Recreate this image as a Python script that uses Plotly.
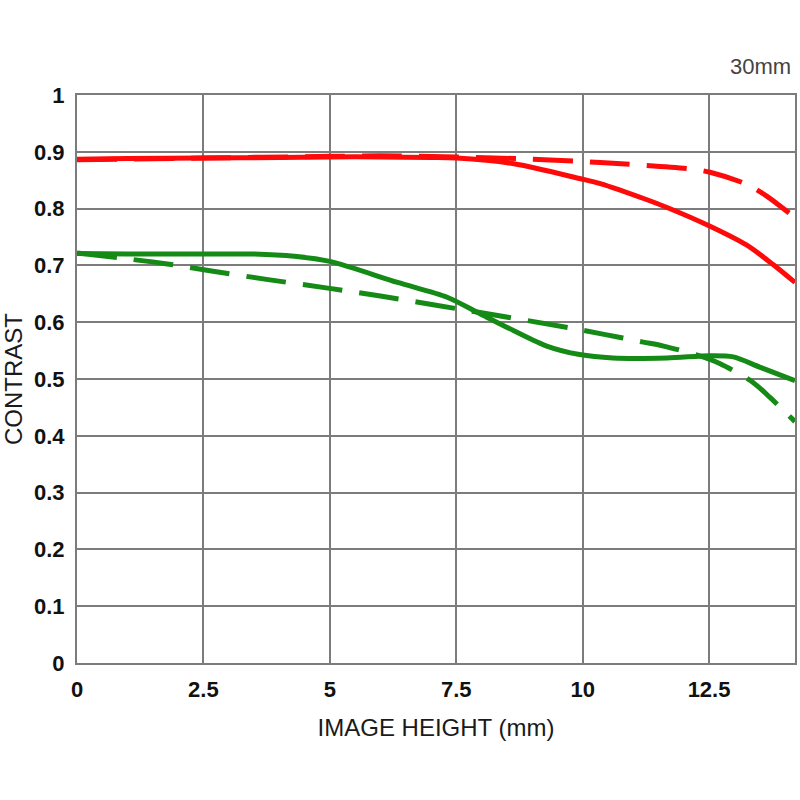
import plotly.graph_objects as go

# Red curves
red_solid_x = [0, 1, 2.5, 4, 5, 6, 7, 7.5, 8.64, 9.94, 10.35, 11.26, 11.67, 12.52, 13.24, 13.76, 14.2]
red_solid_y = [0.887, 0.888, 0.889, 0.890, 0.891, 0.891, 0.890, 0.889, 0.879, 0.853, 0.844, 0.816, 0.802, 0.769, 0.736, 0.702, 0.670]

red_dash_x = [0, 2.5, 5, 6, 7.5, 9, 10.35, 12.13, 12.52, 13.24, 13.64, 14.2]
red_dash_y = [0.886, 0.889, 0.892, 0.893, 0.891, 0.887, 0.881, 0.870, 0.864, 0.843, 0.822, 0.784]

# Green curves
green_solid_x = [0, 1, 2.5, 3.5, 4.3, 5, 6.34, 7.32, 7.97, 8.64, 9.29, 9.94, 10.6, 11.67, 12.52, 12.98, 13.5, 14.2]
green_solid_y = [0.721, 0.720, 0.720, 0.720, 0.716, 0.707, 0.670, 0.644, 0.615, 0.585, 0.558, 0.543, 0.537, 0.537, 0.541, 0.539, 0.521, 0.497]

green_dash_x = [0, 1.75, 2.66, 3.78, 4.96, 6.0, 7.97, 9.94, 10.4, 11.2, 11.6, 12.27, 12.72, 13.37, 13.7, 14.2]
green_dash_y = [0.722, 0.703, 0.690, 0.675, 0.660, 0.646, 0.617, 0.587, 0.579, 0.565, 0.558, 0.542, 0.527, 0.494, 0.468, 0.425]

x_ticks = [0, 2.5, 5, 7.5, 10, 12.5]
x_tick_labels = ["0", "2.5", "5", "7.5", "10", "12.5"]
y_ticks = [0, 0.1, 0.2, 0.3, 0.4, 0.5, 0.6, 0.7, 0.8, 0.9, 1]
y_tick_labels = ["0", "0.1", "0.2", "0.3", "0.4", "0.5", "0.6", "0.7", "0.8", "0.9", "1"]

RED = "#ff0a0a"
GREEN = "#168a16"
GRID = "#7c7c7c"
DASH = "40px,17px"

fig = go.Figure()
fig.add_trace(go.Scatter(x=red_dash_x, y=red_dash_y, mode="lines",
                         line=dict(color=RED, width=5, dash=DASH, shape="spline", smoothing=0.8)))
fig.add_trace(go.Scatter(x=red_solid_x, y=red_solid_y, mode="lines",
                         line=dict(color=RED, width=5, shape="spline", smoothing=0.8)))
fig.add_trace(go.Scatter(x=green_dash_x, y=green_dash_y, mode="lines",
                         line=dict(color=GREEN, width=5, dash=DASH, shape="spline", smoothing=0.8)))
fig.add_trace(go.Scatter(x=green_solid_x, y=green_solid_y, mode="lines",
                         line=dict(color=GREEN, width=5, shape="spline", smoothing=0.8)))

tickfont = dict(family="Liberation Sans, Arial, sans-serif", size=22, color="#111111", weight="bold")
titlefont = dict(family="Liberation Sans, Arial, sans-serif", size=24, color="#1a1a1a")

fig.update_layout(
    width=800, height=800,
    margin=dict(l=77, r=3, t=95, b=137),
    paper_bgcolor="white", plot_bgcolor="white",
    showlegend=False,
    xaxis=dict(
        range=[0, 14.2], tickvals=x_ticks, ticktext=x_tick_labels,
        showgrid=True, gridcolor=GRID, gridwidth=2,
        showline=True, linecolor=GRID, linewidth=2, mirror=True,
        zeroline=False, ticks="", tickfont=tickfont, ticklabelstandoff=6,
        title=dict(text="IMAGE HEIGHT (mm)", font=titlefont, standoff=18),
        fixedrange=True,
    ),
    yaxis=dict(
        range=[0, 1], tickvals=y_ticks, ticktext=y_tick_labels,
        showgrid=True, gridcolor=GRID, gridwidth=2,
        showline=True, linecolor=GRID, linewidth=2, mirror=True,
        zeroline=False, ticks="", tickfont=tickfont, ticklabelstandoff=6,
        title=dict(text="CONTRAST", font=titlefont, standoff=12),
        fixedrange=True,
    ),
    annotations=[dict(
        text="30mm", xref="paper", yref="paper", x=1.0, y=1.0, xanchor="right", yanchor="bottom",
        xshift=-2, yshift=14, showarrow=False,
        font=dict(family="Liberation Sans, Arial, sans-serif", size=22, color="#444444"),
    )],
)

fig.write_html("out.html", config={"displayModeBar": False},
               post_script="document.body.style.margin='0';document.body.style.overflow='hidden';")
